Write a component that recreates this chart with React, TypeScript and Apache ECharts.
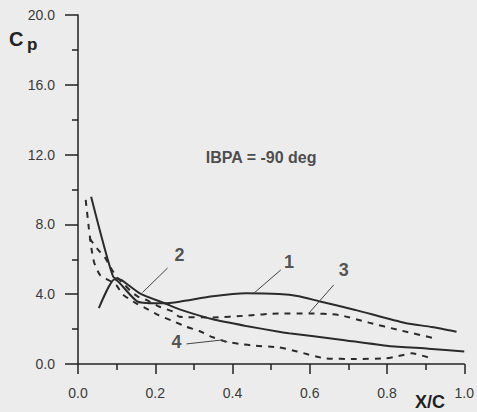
import React, { useEffect, useRef } from "react";
import * as echarts from "echarts";

// Curve data [x/c, Cp]
const curve1: number[][] = [
  [0.054, 3.2], [0.095, 4.85], [0.155, 3.57], [0.22, 3.48], [0.263, 3.57], [0.349, 3.88],
  [0.435, 4.05], [0.52, 4.01], [0.572, 3.88], [0.624, 3.6], [0.718, 3.1], [0.847, 2.35],
  [0.916, 2.12], [0.98, 1.85],
];
const curve2: number[][] = [
  [0.034, 9.59], [0.091, 5.0], [0.113, 4.81], [0.16, 4.05], [0.229, 3.44], [0.263, 3.13],
  [0.349, 2.56], [0.435, 2.18], [0.52, 1.85], [0.546, 1.76], [0.675, 1.41], [0.804, 1.03],
  [0.907, 0.88], [1.0, 0.72],
];
const curve3: number[][] = [
  [0.03, 7.2], [0.05, 6.6], [0.07, 6.1], [0.085, 5.5], [0.1, 5.0], [0.12, 4.55], [0.138, 4.14],
  [0.155, 3.86], [0.177, 3.67], [0.211, 3.28], [0.246, 3.0], [0.263, 2.71], [0.349, 2.67],
  [0.435, 2.77], [0.52, 2.9], [0.598, 2.9], [0.675, 2.81], [0.753, 2.37], [0.83, 1.95],
  [0.924, 1.47],
];
const curve4: number[][] = [
  [0.02, 9.4], [0.028, 7.8], [0.035, 6.6], [0.042, 5.8], [0.057, 5.1], [0.08, 4.8], [0.1, 4.5],
  [0.113, 4.05], [0.13, 3.76], [0.151, 3.47], [0.181, 3.13], [0.207, 2.81], [0.25, 2.42],
  [0.28, 2.14], [0.314, 1.89], [0.349, 1.53], [0.383, 1.28], [0.418, 1.15], [0.46, 1.05],
  [0.52, 0.95], [0.567, 0.72], [0.641, 0.32], [0.718, 0.29], [0.796, 0.32], [0.83, 0.46],
  [0.864, 0.61], [0.907, 0.38],
];

// Curve labels and leader lines (data coordinates)
const curveLabels = ["1", "2", "3", "4"];
const labelPos: number[][] = [[0.546, 5.85], [0.263, 6.25], [0.688, 5.39], [0.255, 1.26]];
const leaders: number[][][] = [
  [[0.525, 5.39], [0.456, 4.07]],
  [[0.232, 5.5], [0.167, 4.1]],
  [[0.662, 4.53], [0.598, 2.92]],
  [[0.281, 1.15], [0.374, 1.38], [0.387, 1.26]],
];
const annotation = "IBPA = -90 deg";
const annotationPos = [0.474, 11.86];

const lineColor = "#2b2b2b";
const font = "Liberation Sans, Arial, sans-serif";

export default function App() {
  const ref = useRef<HTMLDivElement>(null);
  useEffect(() => {
    const chart = echarts.init(ref.current!, undefined, { renderer: "svg" });
    const solid = (data: number[][]) => ({
      type: "line", data, symbol: "none", smooth: 0.2,
      lineStyle: { color: lineColor, width: 2 }, silent: true,
    });
    const dashed = (data: number[][]) => ({
      type: "line", data, symbol: "none", smooth: 0.2,
      lineStyle: { color: lineColor, width: 2, type: [6, 6] }, silent: true,
    });
    const series: any[] = [solid(curve1), solid(curve2), dashed(curve3), dashed(curve4)];
    leaders.forEach((l) =>
      series.push({ type: "line", data: l, symbol: "none", lineStyle: { color: "#444", width: 1 }, silent: true })
    );
    series.push({
      type: "scatter",
      symbolSize: 0,
      data: curveLabels.map((n, i) => ({ name: n, value: labelPos[i] })),
      label: {
        show: true, position: "inside", formatter: "{b}",
        fontFamily: font, fontWeight: "bold", fontSize: 18, color: "#2a2a2a",
      },
      silent: true,
    });
    series.push({
      type: "scatter",
      symbolSize: 0,
      data: [{ name: annotation, value: annotationPos }],
      label: {
        show: true, position: "inside", formatter: "{b}",
        fontFamily: font, fontWeight: "bold", fontSize: 16, color: "#222",
      },
      silent: true,
    });
    chart.setOption({
      animation: false,
      backgroundColor: "#ececec",
      grid: { left: 78, right: 11, top: 15, bottom: 48 },
      xAxis: {
        type: "value", min: 0, max: 1, interval: 0.2,
        axisLine: { show: true, onZero: false, lineStyle: { color: "#222", width: 1.5 } },
        axisTick: { show: true, length: 10, lineStyle: { color: "#222", width: 1.5 } },
        minorTick: { show: true, splitNumber: 2, length: 6, lineStyle: { color: "#222", width: 1.5 } },
        splitLine: { show: false },
        axisLabel: {
          margin: 22, fontFamily: font, fontSize: 14, color: "#3a3a3a",
          formatter: (v: number) => v.toFixed(1),
        },
      },
      yAxis: {
        type: "value", min: 0, max: 20, interval: 4,
        axisLine: { show: true, lineStyle: { color: "#222", width: 1.5 } },
        axisTick: { show: true, length: 13, lineStyle: { color: "#222", width: 1.5 } },
        minorTick: { show: true, splitNumber: 2, length: 6, lineStyle: { color: "#222", width: 1.5 } },
        splitLine: { show: false },
        axisLabel: {
          margin: 23, fontFamily: font, fontSize: 14, color: "#3a3a3a",
          formatter: (v: number) => v.toFixed(1),
        },
      },
      graphic: [
        { type: "text", left: 9, top: 29, style: { text: "C", font: "bold 20px " + font, fill: "#222" } },
        { type: "text", left: 27, top: 36, style: { text: "p", font: "bold 17px " + font, fill: "#222" } },
        { type: "text", left: 415, top: 393, style: { text: "X/C", font: "bold 18px " + font, fill: "#222" } },
      ],
      series,
    });
    return () => chart.dispose();
  }, []);
  return (
    <div
      ref={ref}
      style={{ position: "fixed", left: 0, top: 0, width: 477, height: 412, background: "#ececec" }}
    />
  );
}
